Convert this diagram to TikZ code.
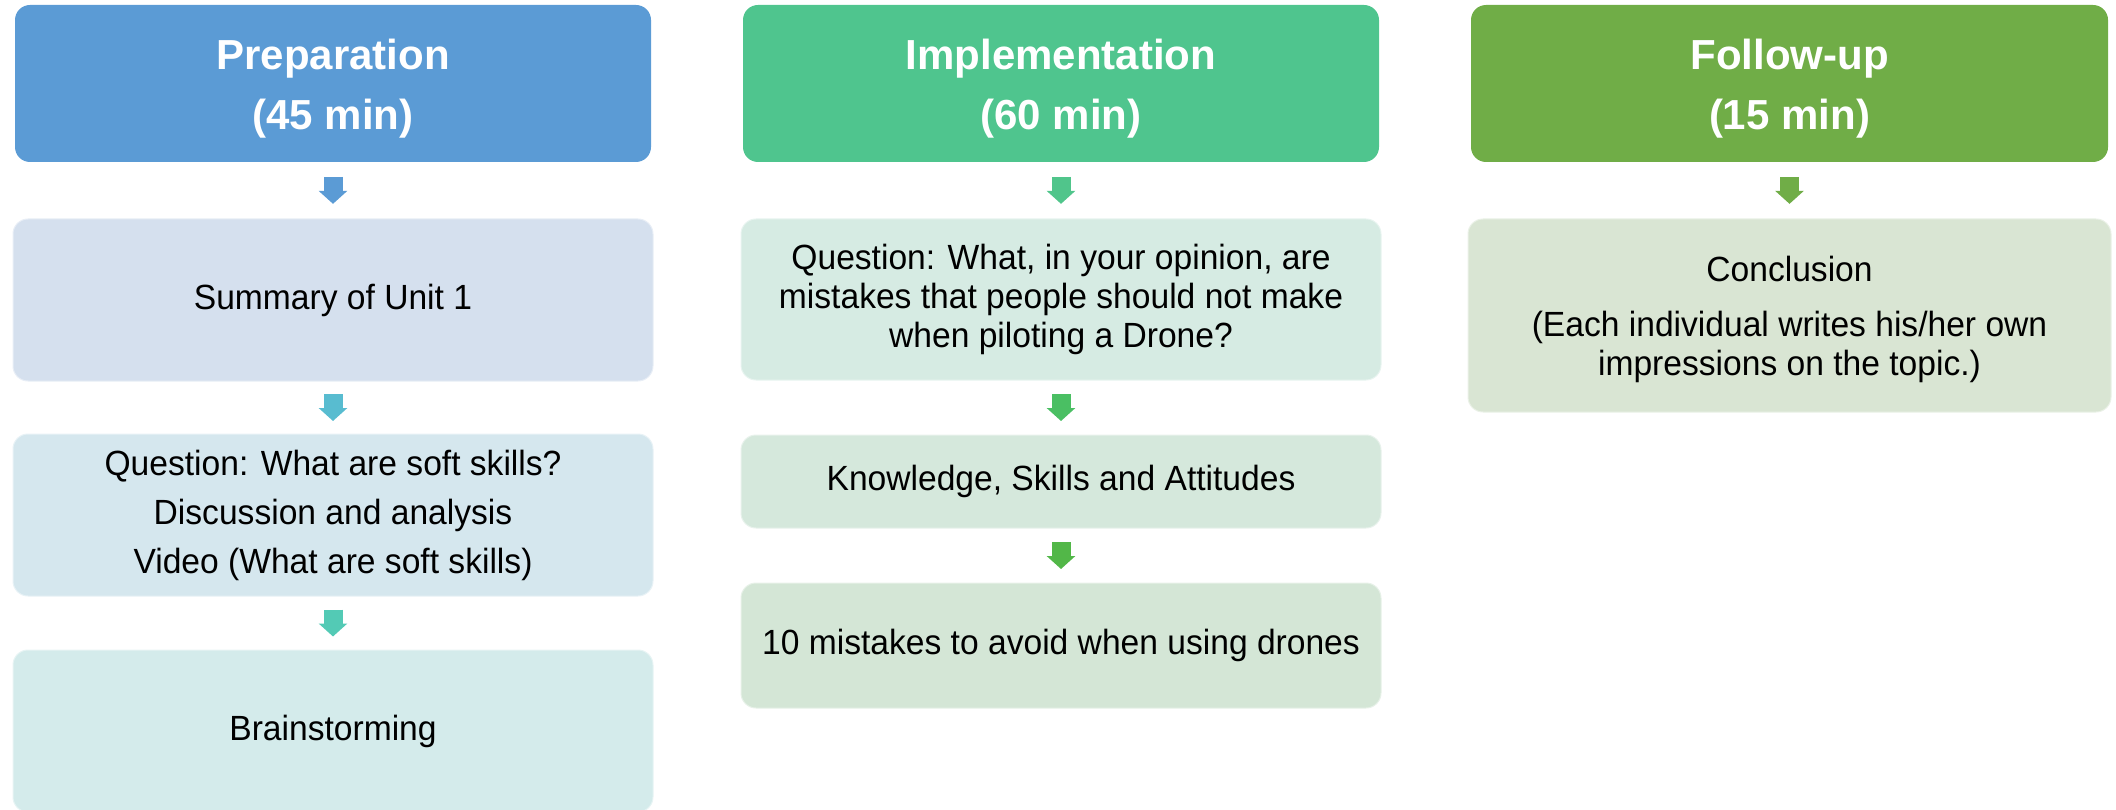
\documentclass[tikz,border=0pt]{standalone}
\usepackage{fontspec}
\setmainfont{Liberation Sans}
\newfontfamily\bodyfont{Liberation Sans}[FakeStretch=0.96]
\usetikzlibrary{arrows.meta,calc}
\definecolor{hA}{HTML}{5B9BD5}
\definecolor{hB}{HTML}{4FC58E}
\definecolor{hC}{HTML}{70AD47}
\definecolor{bAa}{HTML}{D5E0EE}
\definecolor{bAb}{HTML}{D5E7EE}
\definecolor{bAc}{HTML}{D4EBEB}
\definecolor{bBa}{HTML}{D6EBE3}
\definecolor{bBb}{HTML}{D5E8DC}
\definecolor{bBc}{HTML}{D4E6D6}
\definecolor{bCa}{HTML}{D9E5D3}
\definecolor{aAa}{HTML}{5B9BD5}
\definecolor{aAb}{HTML}{58BCD0}
\definecolor{aAc}{HTML}{53CAB5}
\definecolor{aBa}{HTML}{50C58B}
\definecolor{aBb}{HTML}{4ABF63}
\definecolor{aBc}{HTML}{52B748}
\definecolor{aCa}{HTML}{70AD47}
\tikzset{
  hdr/.style={rounded corners=15pt, inner sep=0pt, fill=#1,
    minimum width=636pt, minimum height=157pt, text=white, align=center,
    font=\fontsize{42}{60}\selectfont\bfseries},
  stagebox/.style={rounded corners=15pt, inner sep=0pt, fill=#1, draw=#1!55!white,
    line width=1pt, minimum width=640pt, align=center, text=black,
    font=\bodyfont\fontsize{35}{39}\selectfont},
  flowarr/.style={draw=#1, line width=19pt, line cap=butt,
    -{Triangle[width=28pt,length=13pt,fill=#1]}}
}
\newcommand{\flowlink}[3]{%
  \draw[flowarr=#3] ($(#1.south)!0.5!(#2.north)+(0,-13.5)$) -- ($(#1.south)!0.5!(#2.north)+(0,13.5)$);}
\newcommand{\hstrut}{\rule{0pt}{40pt}}
\begin{document}
\begin{tikzpicture}[x=1pt,y=-1pt]
\useasboundingbox (0,0) rectangle (2116,810);
% column 1
\node[hdr=hA] (h1) at (333,83.5) {\hstrut Preparation\\(45 min)};
\node[stagebox=bAa, minimum height=162pt] (b11) at (333,300) {Summary of Unit 1};
\node[stagebox=bAb, minimum height=162pt] (b12) at (333,515)
  {Question: What are soft skills?\\[10pt] Discussion and analysis\\[10pt] Video (What are soft skills)};
\node[stagebox=bAc, minimum height=162pt] (b13) at (333,731) {Brainstorming};
% column 2
\node[hdr=hB] (h2) at (1061,83.5) {\hstrut Implementation\\(60 min)};
\node[stagebox=bBa, minimum height=161pt] (b21) at (1061,299.5)
  {Question: What, in your opinion, are\\ mistakes that people should not make\\ when piloting a Drone?};
\node[stagebox=bBb, minimum height=93pt] (b22) at (1061,481.5) {Knowledge, Skills and Attitudes};
\node[stagebox=bBc, minimum height=125pt] (b23) at (1061,645.5) {10 mistakes to avoid when using drones};
% column 3
\node[hdr=hC, minimum width=637pt] (h3) at (1789.5,83.5) {\hstrut Follow-up\\(15 min)};
\node[stagebox=bCa, minimum width=643pt, minimum height=193pt] (b31) at (1789.5,315.5)
  {\rule{0pt}{34pt}Conclusion\\[16pt] (Each individual writes his/her own\\ impressions on the topic.)};
% connectors
\flowlink{h1}{b11}{aAa}
\flowlink{b11}{b12}{aAb}
\flowlink{b12}{b13}{aAc}
\flowlink{h2}{b21}{aBa}
\flowlink{b21}{b22}{aBb}
\flowlink{b22}{b23}{aBc}
\flowlink{h3}{b31}{aCa}
\end{tikzpicture}
\end{document}
